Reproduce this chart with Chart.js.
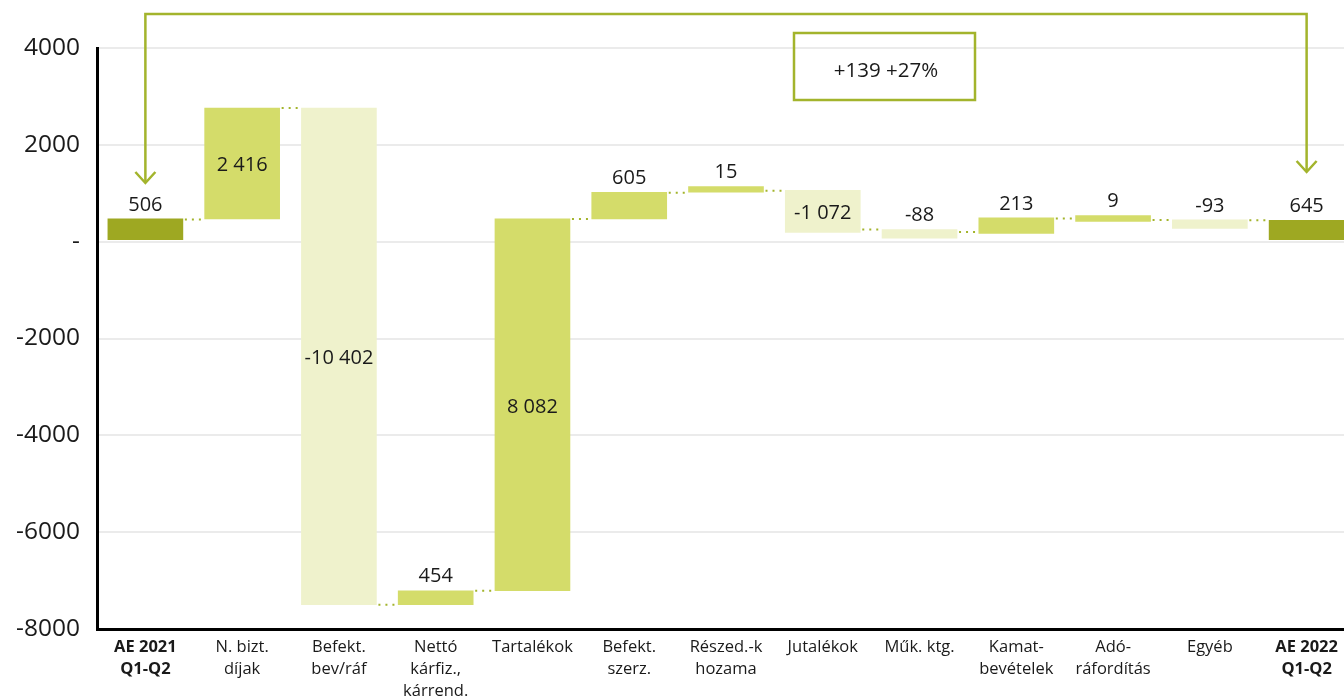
<!DOCTYPE html>
<html>
<head>
<meta charset="utf-8">
<script src="https://cdn.jsdelivr.net/npm/chart.js@4.4.1/dist/chart.umd.min.js"></script>
<style>
    html, body { margin: 0; padding: 0; background: #fff; overflow: hidden; }
    .wrap { width: 1344px; height: 697px; overflow: hidden; }
</style>
</head>
<body>
<div class="wrap">
    <canvas id="waterfall" width="1355" height="697"></canvas>
</div>
<script>
// categories and values
const categories = [
    ['AE 2021', 'Q1-Q2'], ['N. bizt.', 'díjak'], ['Befekt.', 'bev/ráf'],
    ['Nettó', 'kárfiz.,', 'kárrend.'], 'Tartalékok', ['Befekt.', 'szerz.'],
    ['Részed.-k', 'hozama'], 'Jutalékok', 'Műk. ktg.', ['Kamat-', 'bevételek'],
    ['Adó-', 'ráfordítás'], 'Egyéb', ['AE 2022', 'Q1-Q2']
];
const valueLabels = ['506', '2 416', '-10 402', '454', '8 082', '605', '15', '-1 072', '-88', '213', '9', '-93', '645'];
const barStarts = [40, 470, 2760, -7500, -7210, 470, 1020, 1060, 250, 170, 420, 450, 40];
const barEnds = [470, 2760, -7500, -7210, 470, 1020, 1140, 190, 70, 490, 540, 275, 440];
const connectorLevels = [460, 2760, -7500, -7210, 470, 1010, 1050, 250, 200, 480, 450, 440];
const yTicks = [4000, 2000, 0, -2000, -4000, -6000, -8000];
const changeText = '+139 +27%';

const DARK = '#9ea822';
const UP = '#d4dc6a';
const DOWN = '#eff2cc';
const LINE = '#a3b42c';
const TEXT = '#1a1a1a';
const FONT = "'Open Sans', sans-serif";

const last = categories.length - 1;
const barColors = barStarts.map((s, i) => {
    if (i === 0 || i === last) return DARK;
    return barEnds[i] > s ? UP : DOWN;
});

// dotted connectors between bars
const connectorPlugin = {
    id: 'connectors',
    afterDatasetsDraw(chart) {
        const ctx = chart.ctx;
        const bars = chart.getDatasetMeta(0).data;
        const y = chart.scales.y;
        ctx.save();
        ctx.strokeStyle = LINE;
        ctx.lineWidth = 2;
        ctx.setLineDash([2, 5]);
        for (let i = 0; i < bars.length - 1; i++) {
            const py = y.getPixelForValue(connectorLevels[i]);
            ctx.beginPath();
            ctx.moveTo(bars[i].x + bars[i].width / 2 + 2, py);
            ctx.lineTo(bars[i + 1].x - bars[i + 1].width / 2, py);
            ctx.stroke();
        }
        ctx.restore();
    }
};

// value labels: inside tall bars, above short ones
const labelPlugin = {
    id: 'valueLabels',
    afterDatasetsDraw(chart) {
        const ctx = chart.ctx;
        const bars = chart.getDatasetMeta(0).data;
        ctx.save();
        ctx.fillStyle = TEXT;
        ctx.font = '20px ' + FONT;
        ctx.textAlign = 'center';
        ctx.textBaseline = 'middle';
        bars.forEach((bar, i) => {
            const top = Math.min(bar.y, bar.base);
            const bottom = Math.max(bar.y, bar.base);
            if (bottom - top > 35) {
                ctx.fillText(valueLabels[i], bar.x, (top + bottom) / 2 + 2);
            } else {
                ctx.fillText(valueLabels[i], bar.x, top - 14);
            }
        });
        ctx.restore();
    }
};

// bracket arrow from first to last total + change box
const bracketPlugin = {
    id: 'bracket',
    afterDraw(chart) {
        const ctx = chart.ctx;
        const bars = chart.getDatasetMeta(0).data;
        const x1 = bars[0].x, x2 = bars[last].x;
        const topY = 14;
        const tip1 = 183, tip2 = 172;
        ctx.save();
        ctx.strokeStyle = LINE;
        ctx.lineWidth = 2.5;
        ctx.beginPath();
        ctx.moveTo(x1, tip1);
        ctx.lineTo(x1, topY);
        ctx.lineTo(x2, topY);
        ctx.lineTo(x2, tip2);
        ctx.stroke();
        [[x1, tip1], [x2, tip2]].forEach(([x, t]) => {
            ctx.beginPath();
            ctx.moveTo(x - 10, t - 11);
            ctx.lineTo(x, t);
            ctx.lineTo(x + 10, t - 11);
            ctx.stroke();
        });
        ctx.strokeRect(794, 33, 181, 67);
        ctx.fillStyle = TEXT;
        ctx.font = '20.5px ' + FONT;
        ctx.textAlign = 'center';
        ctx.textBaseline = 'middle';
        ctx.fillText(changeText, 886, 71);
        ctx.restore();
    }
};

new Chart(document.getElementById('waterfall').getContext('2d'), {
    type: 'bar',
    data: {
        labels: categories,
        datasets: [{
            data: barStarts.map((s, i) => [s, barEnds[i]]),
            backgroundColor: barColors,
            borderWidth: 0,
            barThickness: 75
        }]
    },
    options: {
        responsive: false,
        animation: false,
        layout: { padding: { top: 48, left: 0, right: 0, bottom: 0 } },
        plugins: {
            legend: { display: false },
            tooltip: { enabled: false }
        },
        scales: {
            x: {
                grid: { display: false, drawTicks: false },
                border: { color: '#000', width: 3 },
                ticks: {
                    color: TEXT,
                    padding: 7,
                    maxRotation: 0,
                    autoSkip: false,
                    font: (c) => ({
                        family: FONT,
                        size: 16.5,
                        lineHeight: 1.33,
                        weight: (c.index === 0 || c.index === last) ? 'bold' : 'normal'
                    })
                },
                afterFit(scale) { scale.height = 68; }
            },
            y: {
                min: -8000,
                max: 4000,
                grid: { color: '#ebebeb', lineWidth: 2, drawTicks: false, tickLength: 0 },
                border: { color: '#000', width: 3 },
                afterBuildTicks(scale) { scale.ticks = yTicks.map(v => ({ value: v })); },
                ticks: {
                    color: TEXT,
                    padding: 17,
                    font: { family: FONT, size: 24.5 },
                    callback: (v) => v === 0 ? '-' : String(v)
                },
                afterFit(scale) { scale.width = 97; }
            }
        }
    },
    plugins: [connectorPlugin, labelPlugin, bracketPlugin]
});
</script>
</body>
</html>
